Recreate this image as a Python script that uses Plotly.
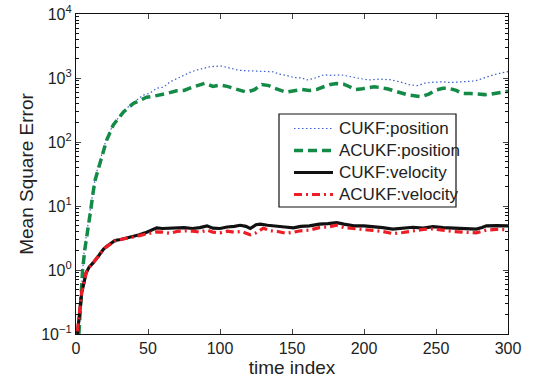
import plotly.graph_objects as go

# ---- data ----
t_cukf_pos = [2, 3, 4, 5, 6, 8, 10, 12, 14, 16.7, 19, 21.3, 25.9, 33, 38.7, 46.8, 51, 56, 61, 65.3, 70,
              74.5, 80, 83.8, 89, 93, 101, 109, 113, 118, 125, 128, 132, 137, 141, 146, 151, 157, 160,
              165, 172, 178, 184, 190, 197.5, 203, 211, 218, 225, 231, 237, 242, 248, 255, 260, 266,
              272, 277, 281, 286, 290, 296, 300]
mse_cukf_pos = [0.1, 0.28, 0.7, 1.3, 2.3, 5.0, 9.0, 18, 32, 50, 80, 112, 190, 300, 400, 540, 575, 690,
                720, 870, 980, 1070, 1250, 1330, 1420, 1500, 1540, 1370, 1320, 1300, 1280, 1290, 1290,
                1250, 1150, 1100, 1020, 1000, 930, 980, 1120, 1100, 1120, 1060, 1000, 930, 960, 940,
                870, 790, 760, 830, 860, 870, 850, 860, 870, 900, 960, 1060, 1120, 1210, 1260]

t_acukf_pos = [2, 3, 4, 4.6, 6, 8, 10, 12, 13.4, 16.7, 19, 21.3, 25.9, 33, 39.8, 45, 49, 54, 58.3, 64,
               69.9, 75, 80.3, 85, 89.5, 95, 100, 105, 109.3, 114, 118.5, 124, 129, 134, 138, 146,
               151, 156.7, 162, 167, 172, 176.6, 181, 185.9, 190, 194, 199, 203, 207, 211, 216, 222,
               227, 231, 236, 240, 245, 250, 255, 259, 264, 268, 274, 279, 284, 288, 294, 300]
mse_acukf_pos = [0.1, 0.25, 0.6, 1.0, 2.0, 4.5, 8.0, 17, 26, 47, 75, 107, 185, 295, 400, 450, 500,
                 520, 540, 580, 630, 640, 710, 760, 830, 740, 775, 740, 690, 640, 600, 660, 790, 760,
                 690, 600, 630, 660, 640, 660, 730, 790, 820, 800, 730, 660, 680, 710, 730, 710, 680,
                 620, 580, 540, 525, 510, 560, 650, 690, 690, 640, 575, 570, 560, 550, 560, 580, 620]

t_cukf_vel = [1, 2, 3, 4, 5, 7, 9, 12, 16, 19, 21, 24, 27, 31, 35, 40, 44, 48, 52, 56, 60, 65, 70,
              75, 81, 86, 91, 95, 100, 105, 110, 114, 118, 121, 125, 128, 133, 139, 145, 151, 156,
              162, 169, 175, 181, 186, 193, 200, 206, 213, 220, 227, 234, 241, 248, 255, 262, 270,
              278, 282, 285, 292, 300]
mse_cukf_vel = [0.1, 0.17, 0.33, 0.45, 0.56, 0.9, 1.1, 1.3, 1.7, 2.1, 2.3, 2.6, 2.9, 3.0, 3.15, 3.4,
                3.55, 3.8, 4.1, 4.55, 4.45, 4.5, 4.45, 4.6, 4.45, 4.6, 4.9, 4.5, 4.45, 4.7, 4.8, 5.0,
                4.8, 4.45, 5.1, 5.2, 5.0, 4.9, 4.7, 4.55, 4.8, 4.9, 5.2, 5.3, 5.5, 5.2, 4.9, 4.9, 4.8,
                4.6, 4.35, 4.5, 4.65, 4.5, 4.75, 4.6, 4.55, 4.5, 4.35, 4.6, 4.9, 4.95, 4.9]

t_acukf_vel = [1, 2, 3, 4, 5, 7, 9, 12, 16, 19, 21, 24, 27, 31, 35, 40, 44, 48, 52, 56, 60, 65, 70,
               76, 81, 86, 91, 95, 100, 105, 110, 115, 121, 125, 130, 135, 140, 146, 151, 156, 162,
               169, 175, 181, 186, 193, 200, 206, 213, 220, 227, 234, 241, 248, 255, 262, 270, 278,
               285, 292, 300]
mse_acukf_vel = [0.11, 0.18, 0.34, 0.46, 0.57, 0.9, 1.1, 1.3, 1.7, 2.1, 2.3, 2.6, 2.85, 3.0, 3.1,
                 3.3, 3.45, 3.6, 3.8, 3.95, 3.9, 3.75, 4.0, 4.1, 4.05, 3.9, 4.2, 3.9, 3.8, 4.05, 3.9,
                 4.0, 3.55, 3.8, 4.5, 4.1, 4.0, 3.75, 3.9, 4.1, 4.2, 4.6, 4.7, 5.0, 4.6, 4.4, 4.2,
                 4.15, 4.0, 3.7, 3.85, 4.1, 4.3, 4.4, 4.15, 4.0, 3.9, 3.8, 4.2, 4.3, 4.25]

x_ticks = [0, 50, 100, 150, 200, 250, 300]
y_ticks = [0.1, 1, 10, 100, 1000, 10000]
y_tick_text = ["10<sup>\u22121</sup>", "10<sup>0</sup>", "10<sup>1</sup>", "10<sup>2</sup>",
               "10<sup>3</sup>", "10<sup>4</sup>"]
names = ["CUKF:position", "ACUKF:position", "CUKF:velocity", "ACUKF:velocity"]

# minor ticks for log axis
minor_vals = [m * 10 ** e for e in range(-1, 4) for m in range(2, 10)]

styles = [
    dict(color="#3a5fcd", width=1.2, dash="1.5px,2.5px"),
    dict(color="#138a46", width=3.5, dash="9px,5px"),
    dict(color="#111111", width=3.2, dash="solid"),
    dict(color="#ee1c25", width=3.2, dash="8px,4px,2px,4px"),
]
series = [(t_cukf_pos, mse_cukf_pos), (t_acukf_pos, mse_acukf_pos),
          (t_cukf_vel, mse_cukf_vel), (t_acukf_vel, mse_acukf_vel)]

fig = go.Figure()
for (tx, vy), nm, st in zip(series, names, styles):
    fig.add_trace(go.Scatter(x=tx, y=vy, mode="lines", name=nm, line=st, showlegend=False,
                             hoverinfo="skip"))

FW, FH = 534, 384
L, R, T, B = 76, 508, 14, 334  # plot area in pixels
W, H = R - L, B - T
def px(x):
    return (x - L) / W
def py(y):
    return (B - y) / H

fig.add_shape(type="rect", xref="paper", yref="paper",
              x0=px(279), x1=px(456), y0=py(207), y1=py(114),
              line=dict(color="#111111", width=1.2), fillcolor="white", layer="above")
row_y = [128.5, 150.5, 172.5, 194.5]
for ry, nm, st in zip(row_y, names, styles):
    fig.add_shape(type="line", xref="paper", yref="paper",
                  x0=px(294), x1=px(333), y0=py(ry), y1=py(ry),
                  line=st, layer="above")
    fig.add_annotation(xref="paper", yref="paper", x=px(337), y=py(ry),
                       xanchor="left", yanchor="middle", text=nm, showarrow=False,
                       font=dict(size=17, color="#222222"))

font = "Liberation Sans, Arial, sans-serif"
fig.update_layout(
    width=FW, height=FH,
    margin=dict(l=L, r=FW - R, t=T, b=FH - B),
    paper_bgcolor="white", plot_bgcolor="white",
    font=dict(family=font, size=16, color="#222222"),
    showlegend=False,
)
fig.update_xaxes(range=[0, 300], tickvals=x_ticks, ticks="inside", ticklen=5,
                 showline=True, linecolor="#111111", linewidth=1.2, mirror="allticks",
                 showgrid=False, zeroline=False, tickfont=dict(size=16), automargin=False,
                 ticklabeloverflow="allow",
                 title=dict(text="time index", font=dict(size=19), standoff=0))
fig.update_yaxes(type="log", range=[-1, 4], tickvals=y_ticks, ticktext=y_tick_text,
                 ticks="inside", ticklen=5,
                 minor=dict(tickvals=minor_vals, ticks="inside", ticklen=3, tickcolor="#111111",
                            showgrid=False),
                 showline=True, linecolor="#111111", linewidth=1.2, mirror="allticks",
                 showgrid=False, zeroline=False, tickfont=dict(size=16), automargin=False,
                 ticklabeloverflow="allow",
                 title=dict(text="Mean Square Error", font=dict(size=19), standoff=2))

fig.write_html("out.html", config={"displayModeBar": False},
               post_script="document.body.style.margin='0';")
